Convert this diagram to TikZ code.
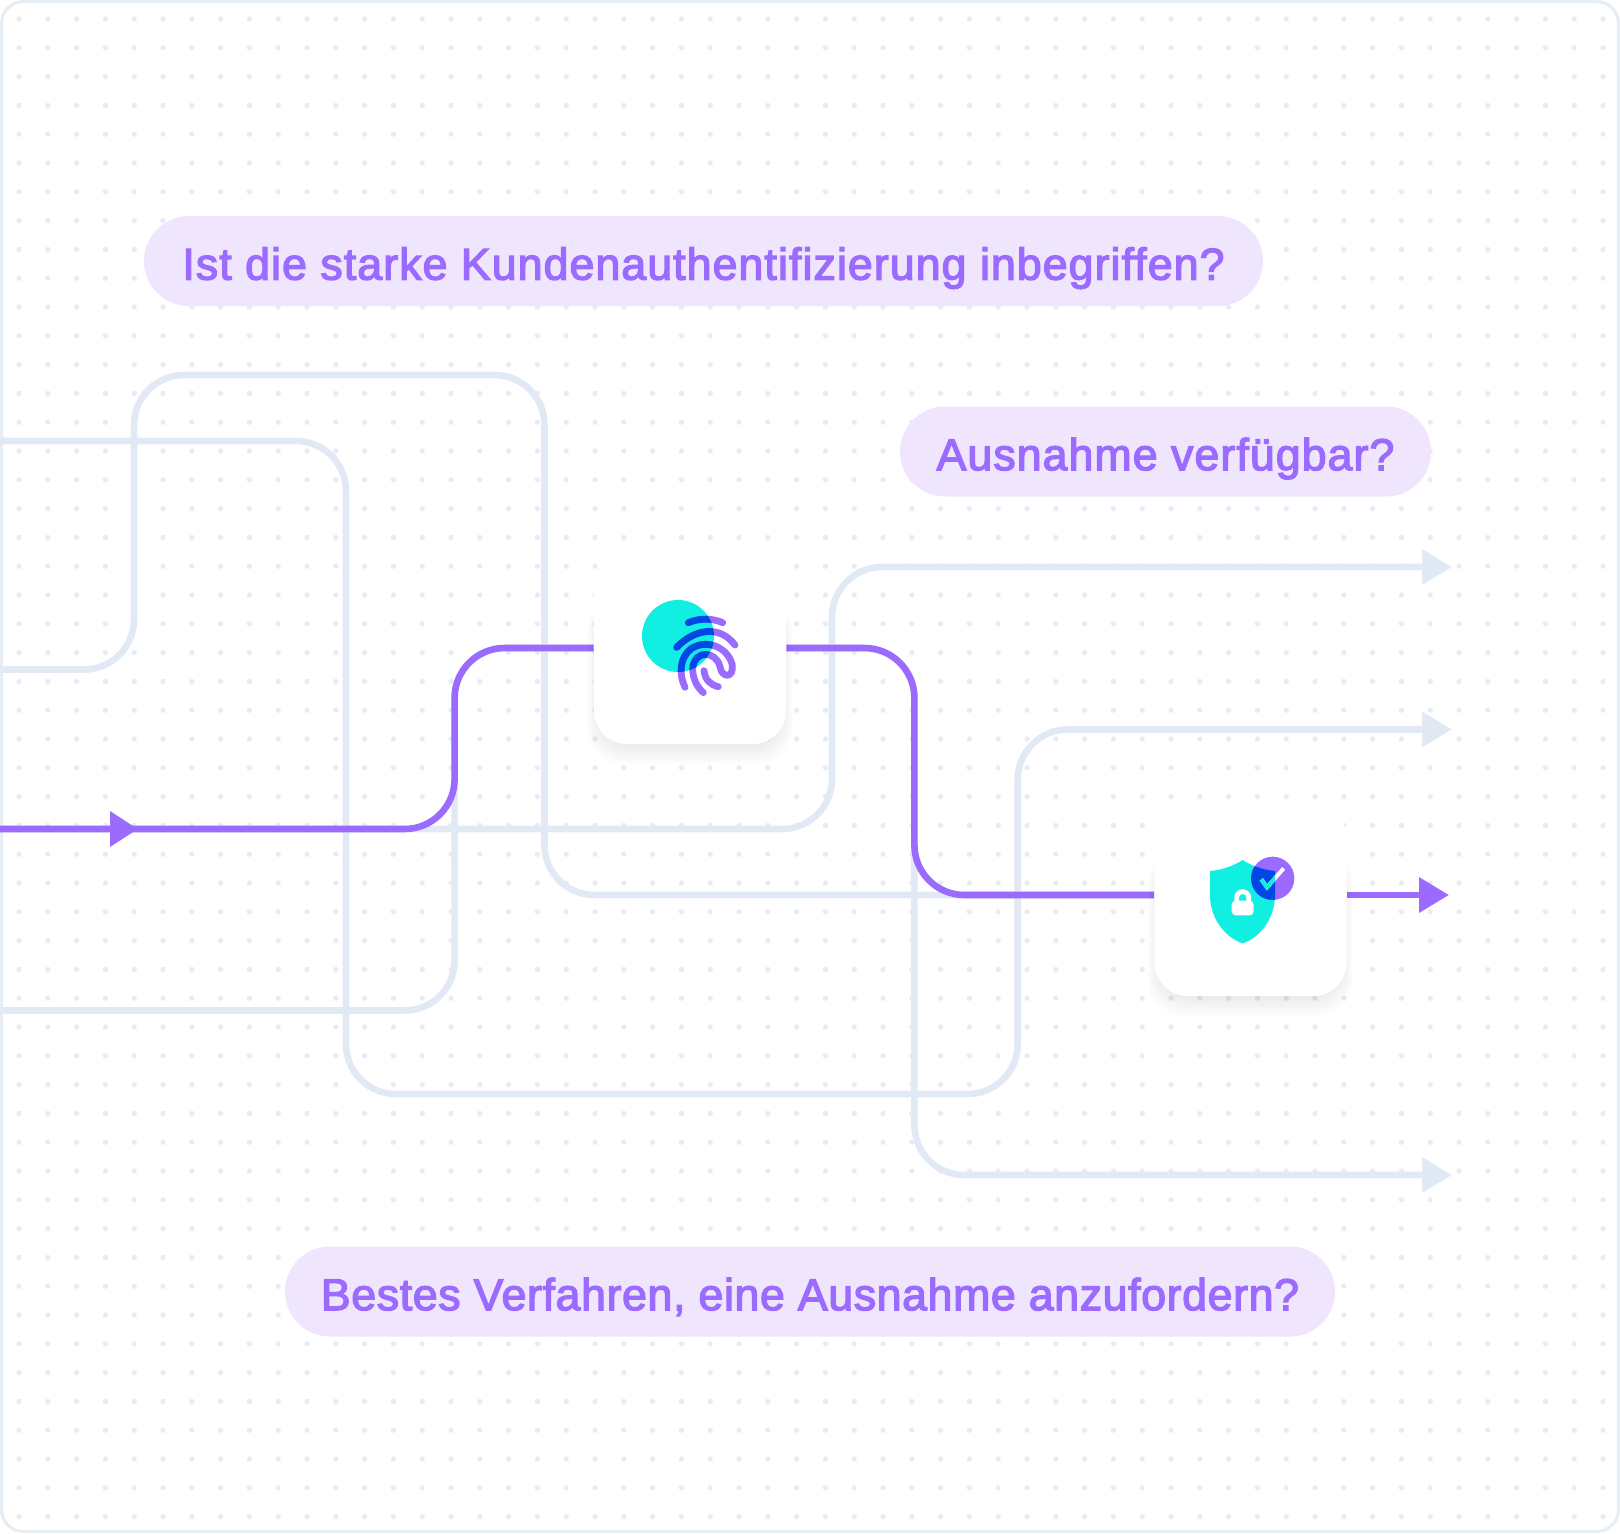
\documentclass[tikz,border=0pt]{standalone}
\usepackage{fontspec}
\newfontfamily\pillfont[FakeBold=3, LetterSpace=2.5]{Liberation Sans}
\newfontfamily\pilllowfont[FakeBold=3, LetterSpace=1.5]{Liberation Sans}
\usetikzlibrary{arrows.meta, positioning, calc, backgrounds}
\definecolor{LineLight}{RGB}{225,234,244}
\definecolor{LinePurple}{RGB}{155,106,255}
\definecolor{PillFill}{RGB}{239,230,253}
\definecolor{DotGray}{RGB}{230,235,245}
\definecolor{FrameGray}{RGB}{230,237,243}
\definecolor{IconTeal}{RGB}{17,239,227}
\definecolor{IconBlue}{RGB}{0,72,229}
\tikzstyle{lightline} = [line width=3.3pt, LineLight, rounded corners=25pt]
\tikzstyle{purpleline} = [line width=3.3pt, LinePurple, rounded corners=25pt]
\tikzstyle{lighttip} = [-{Triangle[length=15pt,width=17pt]}]
\tikzstyle{pill} = [fill=PillFill, rounded corners=22.5pt, minimum height=45pt, inner sep=0pt, text=LinePurple, text height=18.6pt, text depth=0pt, font=\pillfont\fontsize{22.3}{26}\selectfont]
\tikzstyle{card} = [fill=white, rounded corners=16.5pt, minimum width=96pt, minimum height=96pt, inner sep=0pt]
\tikzstyle{fingerline} = [line width=3.4pt, line cap=round]
\newcommand{\fingerlines}[1]{
    \draw[fingerline, #1] (325,218) .. controls (355,205) and (395,203) .. (428,218);
    \draw[fingerline, #1] (290,292) .. controls (345,235) and (420,225) .. (465,285);
    \draw[fingerline, #1] (315,412) .. controls (295,370) and (300,320) .. (335,295) .. controls (385,265) and (445,295) .. (457,345) .. controls (462,385) and (425,385) .. (420,350) .. controls (410,305) and (345,295) .. (338,355) .. controls (338,385) and (350,410) .. (370,428);
    \draw[fingerline, #1] (372,362) .. controls (375,390) and (392,405) .. (415,410);
}
\newcommand{\shieldoutline}{(308,180) .. controls (280,198) and (245,210) .. (210,213) -- (210,290) .. controls (212,360) and (260,415) .. (308,430) .. controls (356,415) and (403,360) .. (405,290) -- (405,213) .. controls (370,210) and (336,198) .. (308,180) -- cycle}

\begin{document}
\begin{tikzpicture}[x=0.5pt, y=-0.5pt]
    \useasboundingbox (0,0) rectangle (1620,1533);

    \node[card] (fingerCard) at (690,648) {};
    \node[card] (shieldCard) at (1250.5,900) {};

    \node[pill, minimum width=559.5pt] (pillTop) at (703.5,261) {Ist die starke Kundenauthentifizierung inbegriffen?};
    \node[pill, minimum width=265.5pt] (pillMid) at (1165.5,451.5) {Ausnahme verfügbar?};
    \node[pill, minimum width=525pt, font=\pilllowfont\fontsize{22.3}{26}\selectfont] (pillLow) at (810,1291.5) {Bestes Verfahren, eine Ausnahme anzufordern?};

    \coordinate (leftA) at (0,669.5);
    \coordinate (leftB) at (0,441);
    \coordinate (leftC) at (0,1010.5);
    \coordinate (leftD) at (0,829);
    \coordinate (arrowIn) at (138,829);
    \coordinate (cornerA) at (134,375);
    \coordinate (cornerB) at (544.5,895);
    \coordinate (cornerC) at (346,1094);
    \coordinate (cornerD) at (1017.7,729.5);
    \coordinate (cornerE) at (454.6,648);
    \coordinate (cornerF) at (914.4,1175);
    \coordinate (cornerG) at (832,567);
    \coordinate (cornerH) at (914.4,895);
    \coordinate (endB) at (1452,729.5);
    \coordinate (endC) at (1452,1175);
    \coordinate (endD) at (1452,567);
    \coordinate (endP) at (1449,895);

    \begin{pgfonlayer}{background}
        \fill[white] (0,0) rectangle (1620,1533);

        % dotted grid
        \foreach \i in {0,...,55} {
            \foreach \j in {0,...,52} {
                \fill[DotGray] (19+28.8*\i,19+28.8*\j) circle (1.3pt);
            }
        }
        \draw[FrameGray, line width=1.5pt, rounded corners=11pt] (1.5,1.5) rectangle (1618.5,1531.5);

        % light routes
        \draw[lightline] (leftA) -| (cornerA) -| (cornerB) -- (shieldCard.west |- cornerB);
        \draw[lightline, lighttip] (leftB) -| (cornerC) -| (cornerD) -- (endB);
        \draw[lightline] (leftC) -| (cornerE) -- (fingerCard.west);
        \draw[lightline, lighttip] (fingerCard.east) -| (cornerF) -- (endC);
        \draw[lightline, lighttip] (leftD) -| (cornerG) -- (endD);

        % purple route
        \draw[purpleline] (leftD) -| (cornerE) -- (fingerCard.west);
        \draw[purpleline] (fingerCard.east) -| (cornerH) -- (shieldCard.west |- cornerH);
        \draw[purpleline, -{Triangle[length=15pt,width=17pt]}] (shieldCard.east |- cornerH) -- (endP);
        \draw[purpleline, -{Triangle[length=14pt,width=17pt]}] (leftD) -- (arrowIn);

        % card shadows
        \foreach \cx/\cy in {690/648,1250.5/900} {
            \foreach \g in {0,2,...,18} {
                \fill[black!60!blue, opacity=0.009, rounded corners=18pt] (\cx-92-0.6*\g,\cy-50) rectangle (\cx+92+0.6*\g,\cy+98+\g);
            }
        }
    \end{pgfonlayer}

    % fingerprint icon
    \begin{scope}[shift={(580,550)}, xscale=0.3333, yscale=0.3333]
        \fill[IconTeal] (294,258) circle (108);
        \fingerlines{LinePurple}
        \begin{scope}
            \clip (294,258) circle (108);
            \fingerlines{IconBlue}
        \end{scope}
    \end{scope}

    % shield icon
    \begin{scope}[shift={(1140,800)}, xscale=0.3333, yscale=0.3333]
        \fill[IconTeal] \shieldoutline;
        \fill[LinePurple] (398,235) circle (65);
        \begin{scope}
            \clip \shieldoutline;
            \fill[IconBlue] (398,235) circle (65);
        \end{scope}
        \draw[white, line width=2pt] (364,238) -- (381,262) -- (431,205);
        \begin{scope}
            \clip \shieldoutline;
            \draw[IconTeal, line width=2pt] (364,238) -- (381,262) -- (431,205);
        \end{scope}
        \fill[white, rounded corners=2pt] (275,302) rectangle (341,346);
        \draw[white, line width=2.4pt] (290,305) -- (290,293) arc (180:360:18) -- (326,305);
    \end{scope}
\end{tikzpicture}
\end{document}
